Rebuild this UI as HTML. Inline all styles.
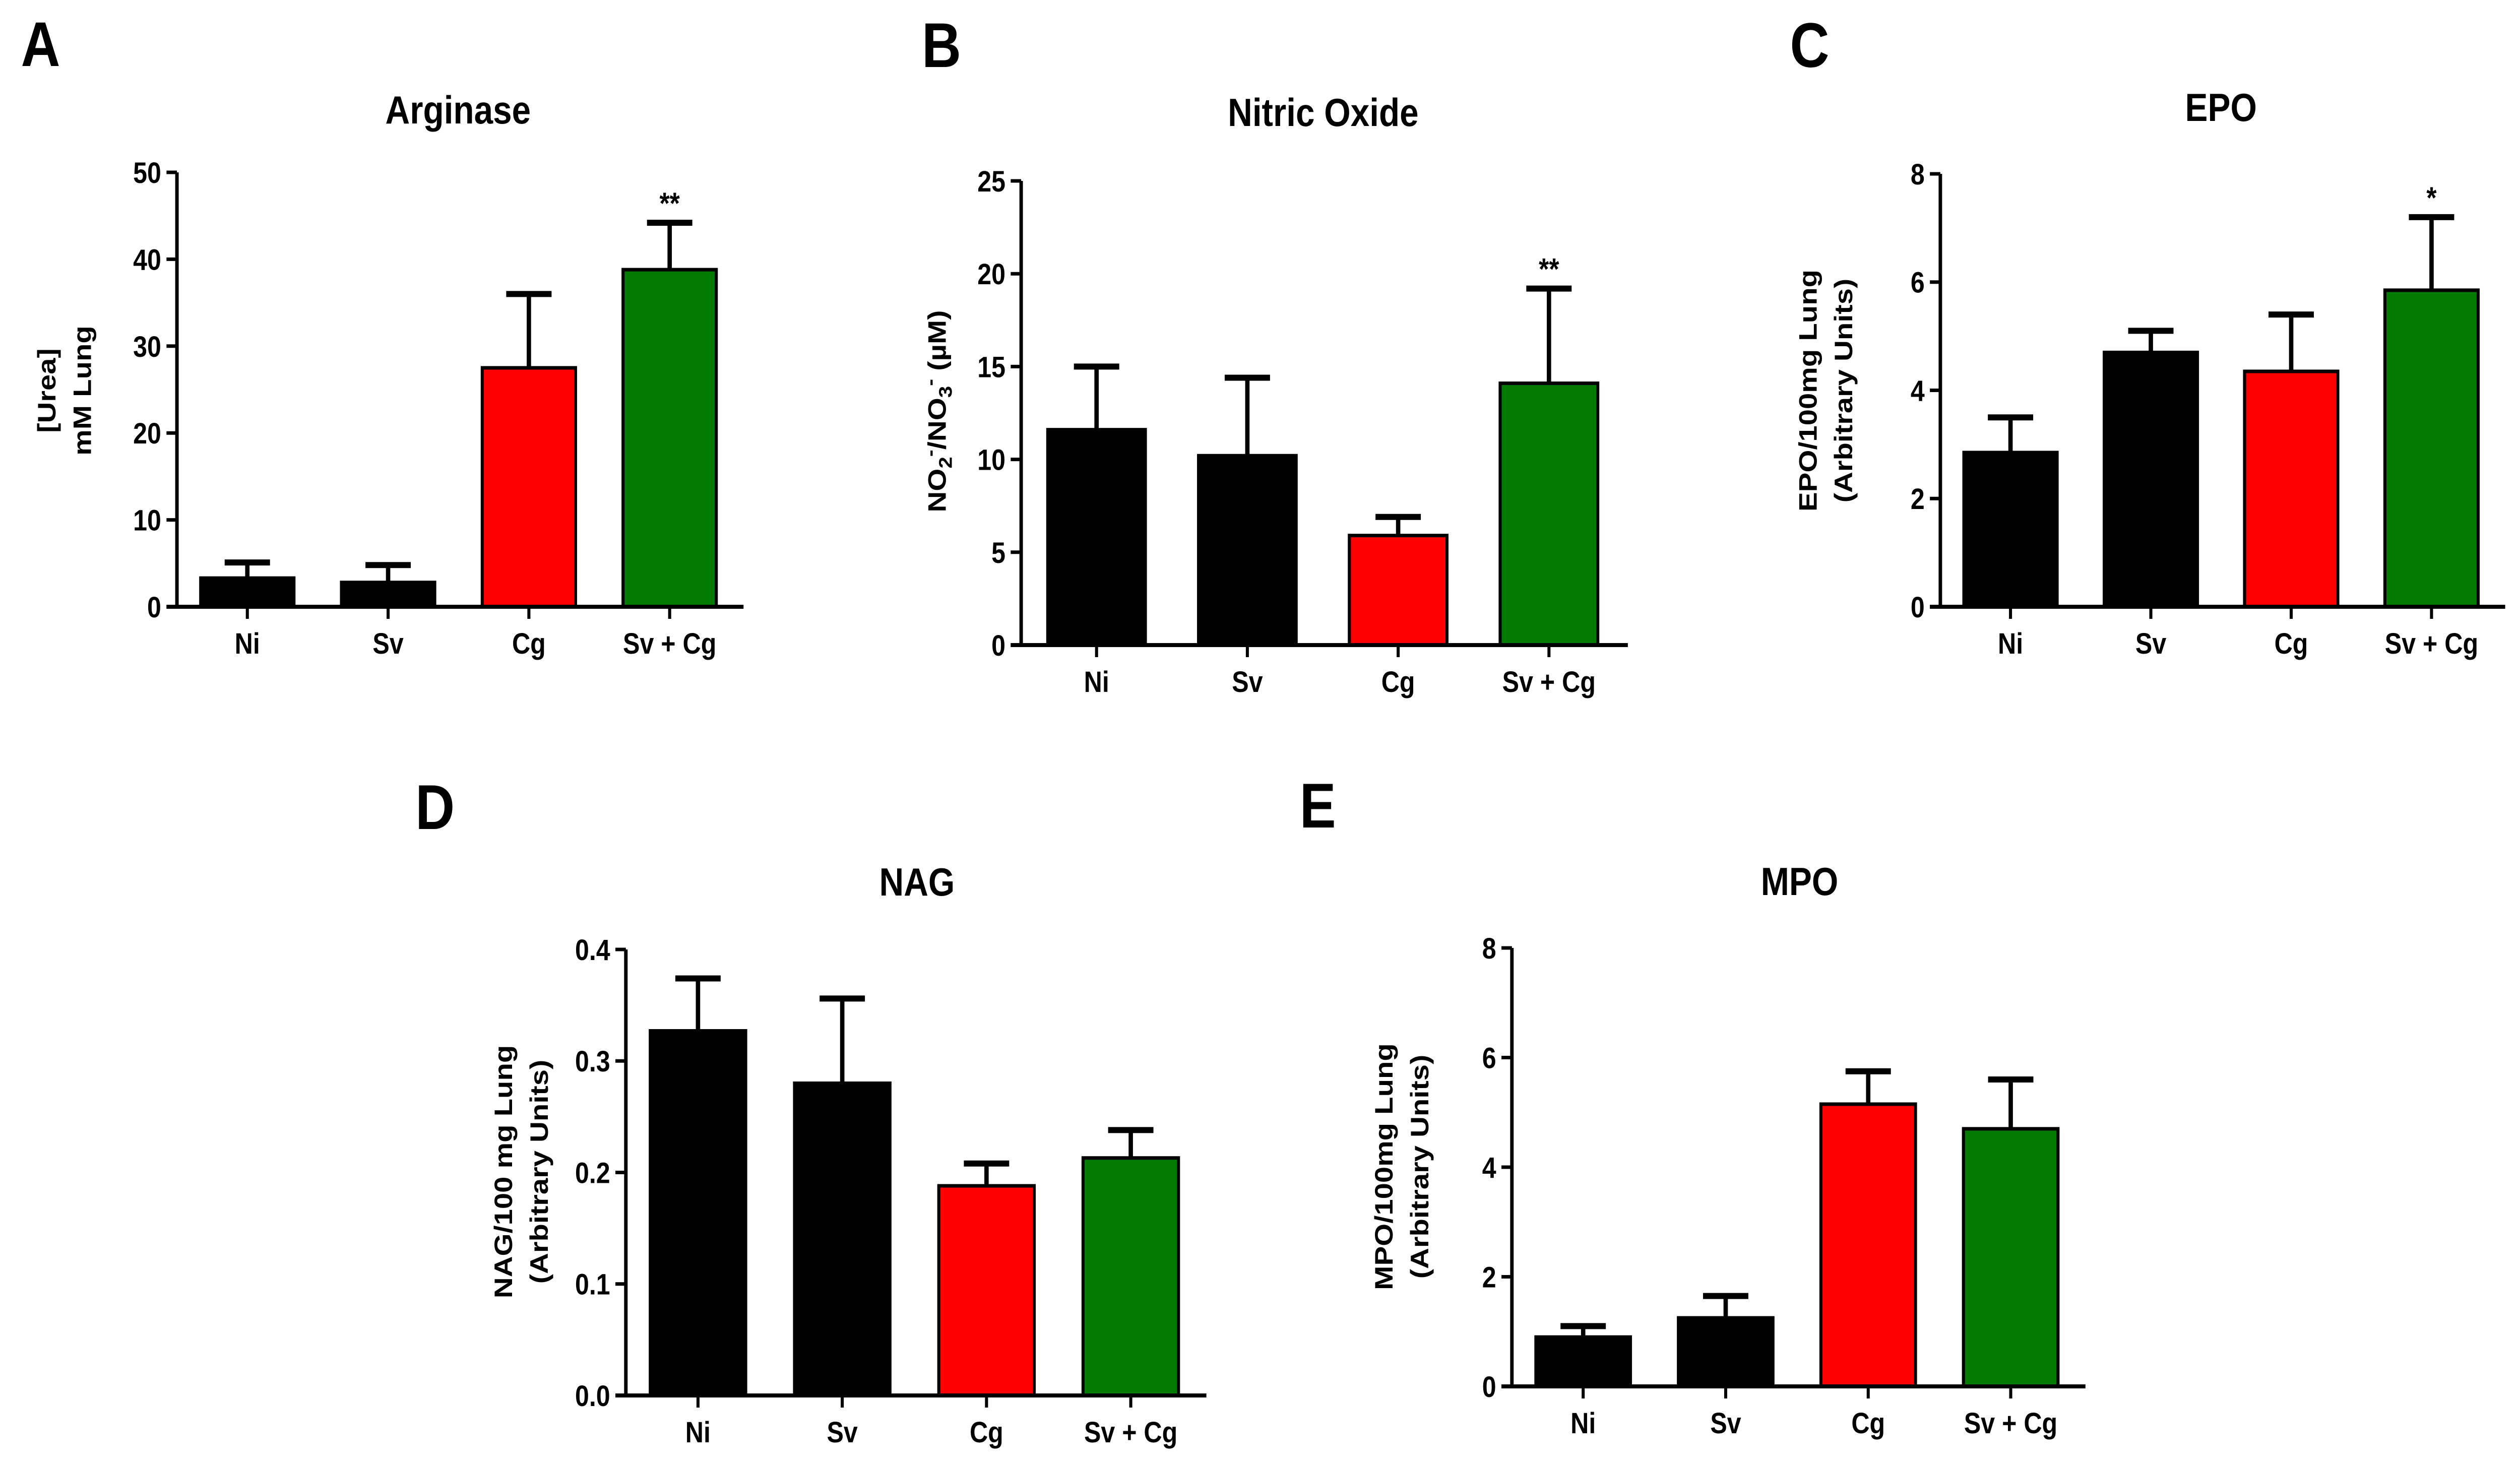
<!DOCTYPE html>
<html><head><meta charset="utf-8">
<style>
html,body{margin:0;padding:0;background:#fff;overflow:hidden;width:100%;height:100%;}
svg{display:block;width:100vw;height:100vh;}
text{font-family:"Liberation Sans",Arial,sans-serif;font-weight:bold;fill:#000;}
</style></head>
<body>
<svg id="fig" viewBox="0 0 5782 2905" preserveAspectRatio="none" xmlns="http://www.w3.org/2000/svg"></svg>
<script>
const categories = ["Ni", "Sv", "Cg", "Sv + Cg"];
const barColors = ["#000000", "#000000", "#ff0000", "#007a00"];

const argMeans = [3.3, 2.8, 27.5, 38.8];
const argErr = [5.1, 4.8, 36.0, 44.2];
const argTicks = ["0", "10", "20", "30", "40", "50"];
const argSig = ["", "", "", "**"];

const noMeans = [11.6, 10.2, 5.9, 14.1];
const noErr = [15.0, 14.4, 6.9, 19.2];
const noTicks = ["0", "5", "10", "15", "20", "25"];
const noSig = ["", "", "", "**"];

const epoMeans = [2.85, 4.7, 4.35, 5.85];
const epoErr = [3.5, 5.1, 5.4, 7.2];
const epoTicks = ["0", "2", "4", "6", "8"];
const epoSig = ["", "", "", "*"];

const nagMeans = [0.327, 0.28, 0.188, 0.213];
const nagErr = [0.374, 0.356, 0.208, 0.238];
const nagTicks = ["0.0", "0.1", "0.2", "0.3", "0.4"];
const nagSig = ["", "", "", ""];

const mpoMeans = [0.9, 1.25, 5.15, 4.7];
const mpoErr = [1.1, 1.65, 5.75, 5.6];
const mpoTicks = ["0", "2", "4", "6", "8"];
const mpoSig = ["", "", "", ""];

const NS = "http://www.w3.org/2000/svg";
const svg = document.getElementById("fig");
function mk(tag, attrs, parent) {
  const e = document.createElementNS(NS, tag);
  for (const k in attrs) e.setAttribute(k, attrs[k]);
  (parent || svg).appendChild(e);
  return e;
}

function panel(p) {
  const g = mk("g", {});
  
  
  const ymax = parseFloat(p.ticks[p.ticks.length - 1]);
  const yS = v => p.y0 - (v / ymax) * (p.y0 - p.yTop);
  const step = p.step;
  const xEnd = p.ax + step * categories.length + 8;
  const xC = i => p.ax + step * (i + 0.5);
  const bw = p.bw;

  const letter = mk("text", {x: p.lx, y: p.ly, "font-size": 125}, g);
  letter.textContent = p.letter;
  
  

  const title = mk("text", {x: p.tx, y: p.ty, "font-size": 78, "text-anchor": "middle"}, g);
  title.textContent = p.title;
  
  

  for (let i = 0; i < categories.length; i++) {
    const cx = xC(i), top = yS(p.means[i]), et = yS(p.err[i]);
    const eb = mk("line", {x1: cx, x2: cx, y1: top, y2: et, stroke: "#000", "stroke-width": 10}, g);
    
    
    const cap = mk("line", {x1: cx - 52, x2: cx + 52, y1: et, y2: et, stroke: "#000", "stroke-width": 12}, g);
    
    
    const r = mk("rect", {x: cx - bw / 2, y: top, width: bw, height: p.y0 - top, fill: barColors[i], stroke: "#000", "stroke-width": 7}, g);
    
    
    if (p.sig[i]) {
      const s = mk("text", {x: cx, y: et - 18, "font-size": 60, "text-anchor": "middle"}, g);
      s.textContent = p.sig[i];
      
      
    }
    const tk = mk("line", {x1: cx, x2: cx, y1: p.y0, y2: p.y0 + 24, stroke: "#000", "stroke-width": 7}, g);
    
    
    const lb = mk("text", {x: cx, y: p.y0 + 93, "font-size": 58, "text-anchor": "middle"}, g);
    lb.textContent = categories[i];
    
    
  }
  const ya = mk("line", {x1: p.ax, x2: p.ax, y1: p.yTop, y2: p.y0 + 4, stroke: "#000", "stroke-width": 8}, g);
  
  
  const xa = mk("line", {x1: p.ax - 24, x2: xEnd, y1: p.y0, y2: p.y0, stroke: "#000", "stroke-width": 8}, g);
  
  
  for (const t of p.ticks) {
    const y = yS(parseFloat(t));
    const tl = mk("line", {x1: p.ax - 24, x2: p.ax, y1: y, y2: y, stroke: "#000", "stroke-width": 7}, g);
    
    
    const tt = mk("text", {x: p.ax - 36, y: y + 21, "font-size": 58, "text-anchor": "end"}, g);
    tt.textContent = t;
    
    
  }
  const yl = mk("text", {transform: "translate(" + p.ylx + "," + p.ylc + ") rotate(-90)", "font-size": 58, "text-anchor": "middle"}, g);
  
  
  p.ylab.forEach((line, k) => {
    const ts = mk("tspan", {x: 0, y: k * 82}, yl);
    ts.innerHTML = line;
  });
}

panel({name: "arginase-chart", letter: "A", lx: 48, ly: 131, title: "Arginase", tx: 1051, ty: 245,
  ax: 406, step: 323, bw: 214, yTop: 342, y0: 1204,
  means: argMeans, err: argErr, ticks: argTicks, sig: argSig,
  ylx: 127, ylc: 775, ylab: ["[Urea]", "mM Lung"]});

panel({name: "nitric-oxide-chart", letter: "B", lx: 2115, ly: 133, title: "Nitric Oxide", tx: 3036, ty: 250,
  ax: 2343, step: 346, bw: 224, yTop: 359, y0: 1280,
  means: noMeans, err: noErr, ticks: noTicks, sig: noSig,
  ylx: 2170, ylc: 816, ylab: ['NO<tspan font-size="42" dy="14">2</tspan><tspan font-size="42" dy="-36">-</tspan><tspan dy="22">/NO</tspan><tspan font-size="42" dy="14">3</tspan><tspan font-size="42" dy="-36">-</tspan><tspan dy="22"> (µM)</tspan>']});

panel({name: "epo-chart", letter: "C", lx: 4107, ly: 133, title: "EPO", tx: 5096, ty: 240,
  ax: 4452, step: 322, bw: 214, yTop: 345, y0: 1204,
  means: epoMeans, err: epoErr, ticks: epoTicks, sig: epoSig,
  ylx: 4168, ylc: 775, ylab: ["EPO/100mg Lung", "(Arbitrary Units)"]});

panel({name: "nag-chart", letter: "D", lx: 953, ly: 1645, title: "NAG", tx: 2104, ty: 1777,
  ax: 1436, step: 331, bw: 219, yTop: 1884, y0: 2769,
  means: nagMeans, err: nagErr, ticks: nagTicks, sig: nagSig,
  ylx: 1175, ylc: 2325, ylab: ["NAG/100 mg Lung", "(Arbitrary Units)"]});

panel({name: "mpo-chart", letter: "E", lx: 2982, ly: 1642, title: "MPO", tx: 4129, ty: 1776,
  ax: 3469, step: 327, bw: 217, yTop: 1881, y0: 2751,
  means: mpoMeans, err: mpoErr, ticks: mpoTicks, sig: mpoSig,
  ylx: 3195, ylc: 2315, ylab: ["MPO/100mg Lung", "(Arbitrary Units)"]});
</script>
</body></html>
